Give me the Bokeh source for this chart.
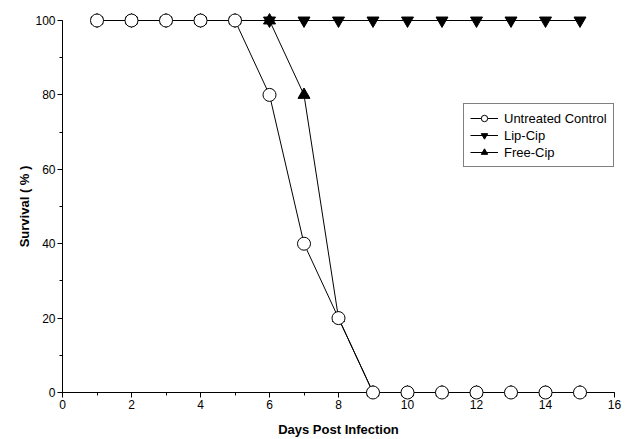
from bokeh.plotting import figure
from bokeh.models import Range1d, FixedTicker
from bokeh.embed import file_html
from bokeh.resources import INLINE

days = [1, 2, 3, 4, 5, 6, 7, 8, 9, 10, 11, 12, 13, 14, 15]
untreated = [100, 100, 100, 100, 100, 80, 40, 20, 0, 0, 0, 0, 0, 0, 0]
lip_cip = [100, 100, 100, 100, 100, 100, 100, 100, 100, 100, 100, 100, 100, 100, 100]
free_cip = [100, 100, 100, 100, 100, 100, 80, 20, 0, 0, 0, 0, 0, 0, 0]
x_ticks = [0, 2, 4, 6, 8, 10, 12, 14, 16]
y_ticks = [0, 20, 40, 60, 80, 100]

FONT = "Liberation Sans"

p = figure(width=630, height=439, output_backend="svg", toolbar_location=None,
           x_range=Range1d(0, 16), y_range=Range1d(0, 100),
           min_border_left=62, min_border_right=16, min_border_top=20, min_border_bottom=46)
p.outline_line_color = None
p.xgrid.visible = False
p.ygrid.visible = False
p.background_fill_color = "white"
p.border_fill_color = "white"

# series: Lip-Cip first, Free-Cip, then Untreated on top
p.line(days, lip_cip, line_color="black", line_width=1, legend_label="Lip-Cip", level="overlay")
p.scatter(days, lip_cip, marker="inverted_triangle", size=12, fill_color="black",
          line_color="black", legend_label="Lip-Cip", level="overlay")
p.line(days, free_cip, line_color="black", line_width=1, legend_label="Free-Cip", level="overlay")
p.scatter(days, free_cip, marker="triangle", size=12, fill_color="black",
          line_color="black", legend_label="Free-Cip", level="overlay")
p.line(days, untreated, line_color="black", line_width=1, legend_label="Untreated Control", level="overlay")
p.scatter(days, untreated, marker="circle", size=13, fill_color="white",
          line_color="black", line_width=1, legend_label="Untreated Control", level="overlay")

# axes
for ax in (p.xaxis[0], p.yaxis[0]):
    ax.axis_line_color = "black"
    ax.axis_line_width = 1
    ax.major_tick_line_color = "black"
    ax.minor_tick_line_color = "black"
    ax.major_tick_in = 0
    ax.major_tick_out = 5
    ax.minor_tick_in = 0
    ax.minor_tick_out = 3
    ax.major_label_text_font = FONT
    ax.major_label_text_font_size = "12px"
    ax.major_label_text_color = "black"
    ax.axis_label_text_font = FONT
    ax.axis_label_text_font_size = "13px"
    ax.axis_label_text_font_style = "bold"
    ax.axis_label_text_color = "black"

p.xaxis[0].ticker = FixedTicker(ticks=x_ticks, minor_ticks=list(range(0, 17)))
p.yaxis[0].ticker = FixedTicker(ticks=y_ticks, minor_ticks=list(range(0, 101, 10)))
p.xaxis.axis_label = "Days Post Infection"
p.yaxis.axis_label = "Survival ( % )"
p.xaxis.major_label_standoff = 2
p.xaxis.axis_label_standoff = 10
p.yaxis.major_label_standoff = 2
p.yaxis.axis_label_standoff = 0

# legend
lg = p.legend[0]
lg.items = [lg.items[2], lg.items[0], lg.items[1]]
lg.location = (401, 225)
lg.border_line_color = "black"
lg.border_line_width = 1
lg.background_fill_color = "white"
lg.background_fill_alpha = 1
lg.label_text_font = FONT
lg.label_text_font_size = "13px"
lg.label_text_color = "black"
lg.glyph_width = 28
lg.glyph_height = 16
lg.label_height = 16
lg.label_standoff = 6
lg.spacing = 1
lg.padding = 6
lg.margin = 0

open("out.html", "w").write(file_html(p, INLINE))
